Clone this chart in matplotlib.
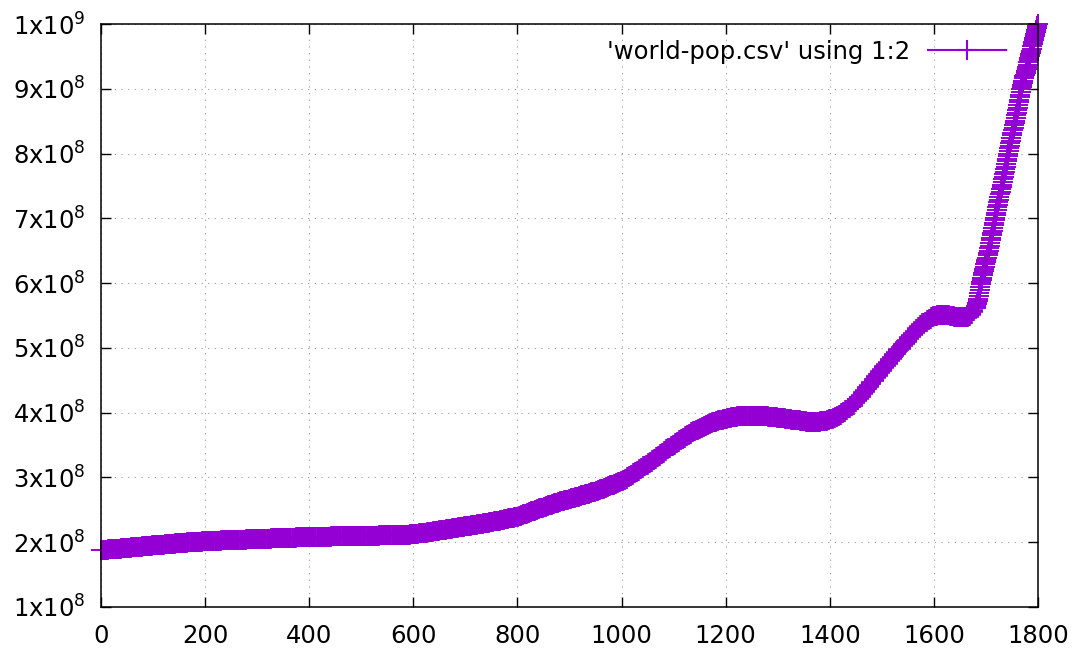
import numpy as np
import matplotlib
matplotlib.use('Agg')
import matplotlib.pyplot as plt
from matplotlib.lines import Line2D

# World population in millions.
# Every 4 years up to 1676, then every year for the steep part.
years_early = list(range(0, 1680, 4))
pop_early = [
    188.0, 188.2, 188.5, 188.7, 189.0, 189.2, 189.4, 189.7, 189.9, 190.2,
    190.4, 190.6, 190.9, 191.2, 191.5, 191.9, 192.2, 192.5, 192.8, 193.1,
    193.4, 193.7, 194.0, 194.4, 194.7, 195.0, 195.3, 195.6, 195.8, 196.1,
    196.4, 196.7, 197.0, 197.2, 197.5, 197.8, 198.1, 198.4, 198.6, 198.9,
    199.1, 199.4, 199.6, 199.9, 200.1, 200.4, 200.6, 200.9, 201.1, 201.3,
    201.5, 201.7, 201.8, 202.0, 202.1, 202.3, 202.4, 202.6, 202.7, 202.9,
    203.0, 203.2, 203.3, 203.4, 203.6, 203.7, 203.8, 204.0, 204.1, 204.2,
    204.4, 204.5, 204.7, 204.8, 204.9, 205.0, 205.1, 205.2, 205.4, 205.5,
    205.6, 205.7, 205.8, 206.0, 206.1, 206.2, 206.3, 206.4, 206.6, 206.7,
    206.8, 206.9, 207.0, 207.2, 207.3, 207.4, 207.5, 207.6, 207.8, 207.9,
    208.0, 208.1, 208.2, 208.2, 208.3, 208.4, 208.5, 208.6, 208.6, 208.7,
    208.8, 208.9, 209.0, 209.0, 209.1, 209.2, 209.3, 209.4, 209.4, 209.5,
    209.6, 209.7, 209.8, 209.8, 209.9, 210.0, 210.0, 210.1, 210.1, 210.2,
    210.2, 210.2, 210.3, 210.3, 210.4, 210.4, 210.5, 210.5, 210.6, 210.7,
    210.8, 210.9, 211.0, 211.2, 211.3, 211.5, 211.6, 211.8, 211.9, 212.1,
    212.3, 212.7, 213.1, 213.6, 214.0, 214.5, 215.0, 215.5, 216.0, 216.5,
    217.0, 217.5, 218.0, 218.5, 219.0, 219.5, 220.0, 220.5, 221.0, 221.5,
    222.0, 222.5, 223.0, 223.5, 224.0, 224.5, 225.0, 225.5, 226.0, 226.5,
    227.0, 227.5, 228.0, 228.6, 229.1, 229.7, 230.3, 230.9, 231.5, 232.1,
    232.7, 233.3, 234.0, 234.6, 235.3, 236.0, 236.7, 237.4, 238.1, 238.8,
    239.4, 240.5, 241.6, 242.8, 244.0, 245.2, 246.3, 247.5, 248.7, 249.9,
    251.1, 252.3, 253.5, 254.6, 255.7, 256.8, 257.9, 259.0, 260.0, 261.0,
    262.0, 263.0, 264.0, 265.0, 265.9, 266.8, 267.7, 268.6, 269.5, 270.4,
    271.3, 272.3, 273.2, 274.2, 275.2, 276.2, 277.2, 278.3, 279.4, 280.5,
    281.6, 282.8, 284.0, 285.2, 286.4, 287.6, 288.9, 290.2, 291.5, 292.9,
    295.0, 296.6, 298.3, 300.1, 302.0, 304.0, 306.1, 308.2, 310.4, 312.6,
    314.8, 317.1, 319.4, 321.7, 324.1, 326.5, 328.9, 331.3, 333.7, 336.1,
    338.5, 340.9, 343.3, 345.7, 348.1, 350.5, 352.8, 355.0, 357.2, 359.4,
    361.5, 363.6, 365.6, 367.5, 369.4, 371.2, 373.0, 374.7, 376.3, 377.9,
    379.4, 380.9, 382.3, 383.7, 385.0, 386.2, 387.3, 388.3, 389.2, 390.0,
    390.8, 391.6, 392.3, 392.9, 393.4, 393.9, 394.3, 394.7, 395.0, 395.2,
    395.4, 395.5, 395.6, 395.6, 395.5, 395.4, 395.2, 395.0, 394.8, 394.5,
    394.2, 393.9, 393.5, 393.1, 392.7, 392.3, 391.9, 391.5, 391.1, 390.7,
    390.3, 389.9, 389.4, 389.0, 388.5, 388.0, 387.5, 387.0, 386.5, 386.1,
    385.8, 385.5, 385.4, 385.4, 385.6, 385.9, 386.4, 387.0, 387.8, 388.7,
    389.6, 390.7, 392.0, 393.5, 395.2, 397.1, 399.2, 401.5, 404.0, 406.7,
    409.6, 412.6, 415.8, 419.1, 422.6, 426.2, 429.9, 433.7, 437.7, 441.9,
    446.0, 450.4, 454.6, 458.6, 462.4, 466.0, 469.8, 473.6, 477.4, 481.2,
    485.0, 488.8, 492.6, 496.4, 500.1, 503.8, 507.5, 511.2, 514.8, 518.4,
    521.9, 525.3, 528.6, 531.8, 534.9, 537.8, 540.5, 543.0, 545.2, 547.1,
    548.6, 549.8, 550.6, 551.0, 551.1, 550.9, 550.5, 550.0, 549.4, 548.8,
    548.2, 547.7, 547.3, 547.1, 547.1, 547.3, 547.9, 549.2, 552.0, 557.0,
]
years_late = list(range(1680, 1801))
pop_late = [
    562, 564, 567, 569, 572, 576, 580, 584, 589, 594,
    598, 602, 605, 608, 612, 615, 619, 622, 625, 629,
    632, 636, 639, 643, 646, 650, 654, 658, 662, 666,
    670, 674, 678, 681, 685, 689, 693, 697, 701, 705,
    709, 713, 717, 721, 725, 729, 733, 737, 741, 745,
    749, 752, 756, 760, 764, 768, 772, 776, 780, 784,
    788, 792, 796, 800, 804, 808, 812, 816, 820, 824,
    828, 832, 836, 840, 844, 847, 851, 855, 859, 863,
    867, 871, 875, 879, 883, 887, 891, 895, 899, 903,
    906, 909, 912, 916, 919, 922, 925, 928, 931, 934,
    937, 941, 944, 947, 950, 953, 956, 959, 962, 966,
    969, 972, 975, 978, 981, 984, 987, 991, 994, 997,
    1000,
]

xticks = [0, 200, 400, 600, 800, 1000, 1200, 1400, 1600, 1800]
yticks = [1e8, 2e8, 3e8, 4e8, 5e8, 6e8, 7e8, 8e8, 9e8, 1e9]
ytick_labels = ['1x10$^{8}$', '2x10$^{8}$', '3x10$^{8}$', '4x10$^{8}$', '5x10$^{8}$',
                '6x10$^{8}$', '7x10$^{8}$', '8x10$^{8}$', '9x10$^{8}$', '1x10$^{9}$']
series_label = "'world-pop.csv' using 1:2"

purple = '#9400d3'

plt.rcParams['mathtext.default'] = 'regular'
fig = plt.figure(figsize=(10.79, 6.54), dpi=100)
ax = fig.add_axes([101 / 1079, 1 - 607 / 654, 937 / 1079, 583 / 654])

pop_early = np.array(pop_early) * 1e6
pop_late = np.array(pop_late) * 1e6

# gnuplot "with points" pt 1: a '+' per row. The 4-year rows get a
# heavier stroke so the crosses merge into one solid band.
ax.plot(years_early, pop_early, '+', ms=14, mew=2.6,
        color=purple, snap=False, zorder=3)
ax.plot(years_early[:1], pop_early[:1], '+', ms=14, mew=1.4,
        color=purple, clip_on=False, snap=False, zorder=3)
ax.plot(years_late, pop_late, '+', ms=14, mew=1.4,
        color=purple, clip_on=False, snap=False, zorder=3)

ax.set_xlim(0, 1800)
ax.set_ylim(1e8, 1e9)
ax.set_xticks(xticks)
ax.set_xticklabels([str(t) for t in xticks])
ax.set_yticks(yticks)
ax.set_yticklabels(ytick_labels)

ax.grid(True, color='#999999', linestyle=(0, (1, 5)), linewidth=0.8)
ax.tick_params(direction='in', length=7.5, width=1.0, top=True, right=True,
               labelsize=17.5, colors='black')
ax.tick_params(axis='x', pad=12)
ax.tick_params(axis='y', pad=11)
for sp in ax.spines.values():
    sp.set_linewidth(1.1)
    sp.set_zorder(4)

handle = Line2D([], [], color=purple, lw=1.5, marker='+', ms=14, mew=1.5)
ax.legend([handle], [series_label], loc='center right',
          bbox_to_anchor=(0.966, 0.952), frameon=False, markerfirst=False,
          fontsize=17.5, handlelength=3.2, handletextpad=0.75,
          borderpad=0, borderaxespad=0)

plt.savefig('out.png', dpi=100)
